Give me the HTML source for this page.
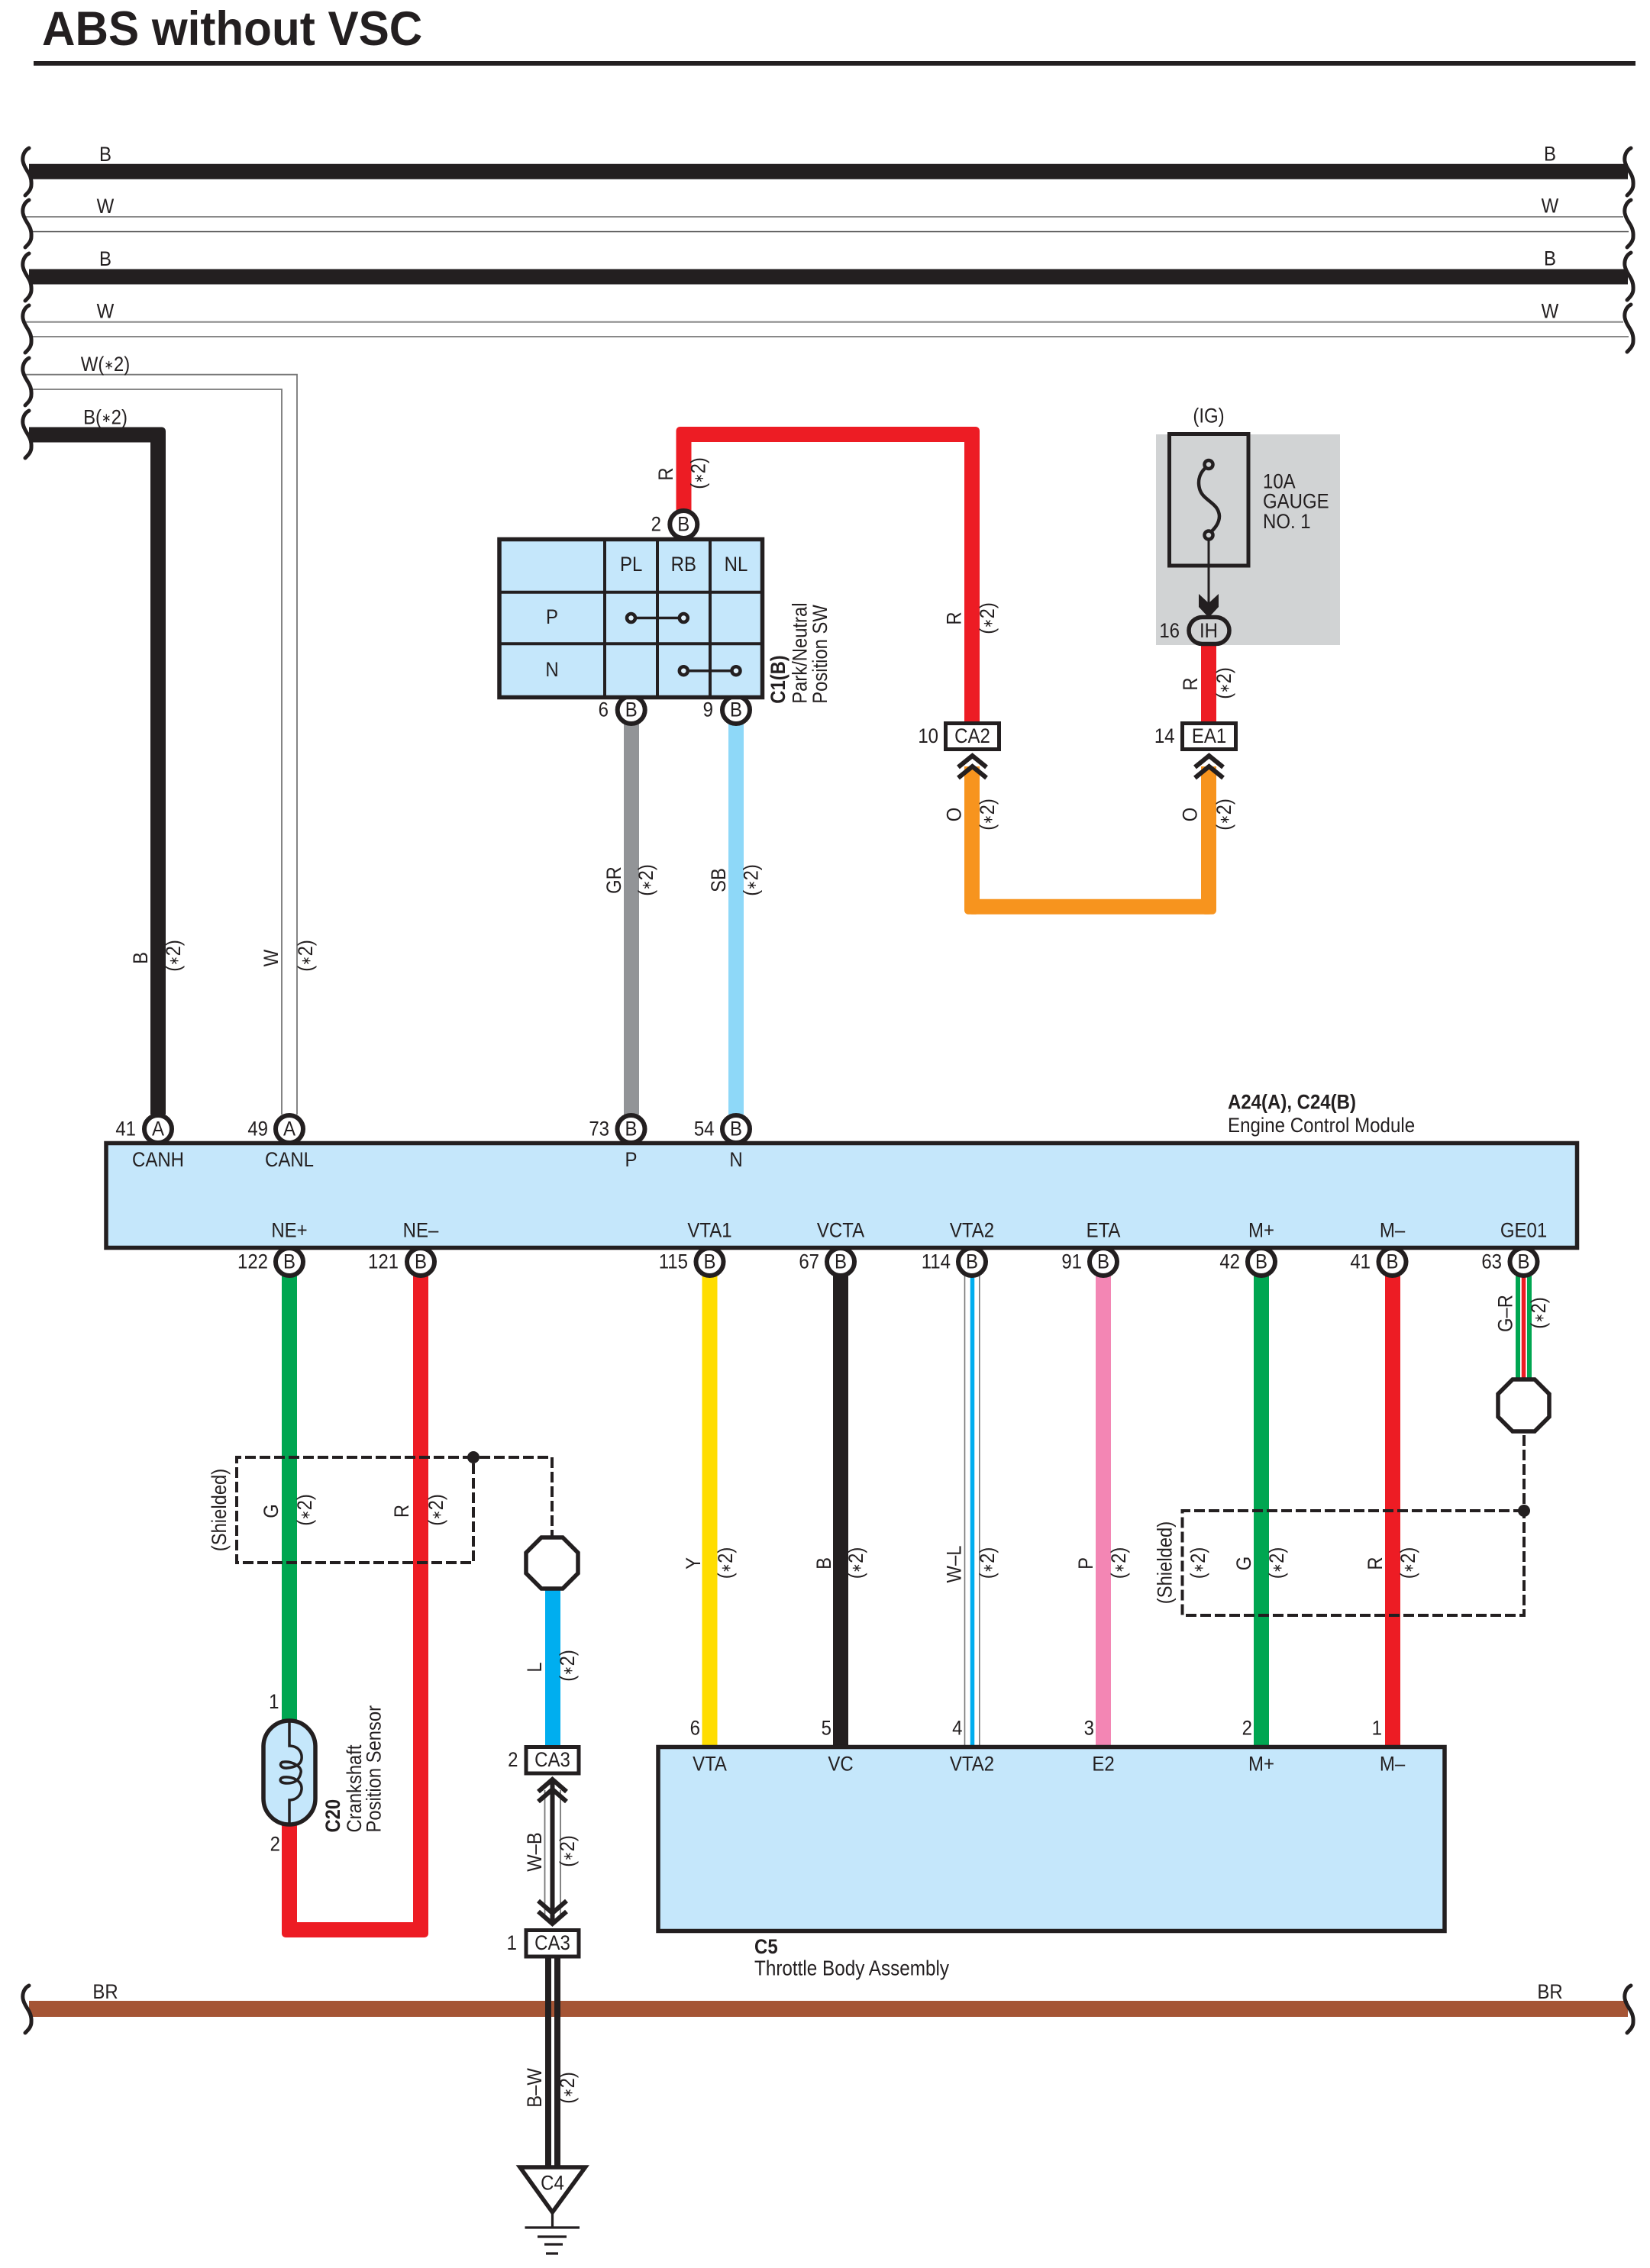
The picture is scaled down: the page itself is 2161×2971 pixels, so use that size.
<!DOCTYPE html>
<html><head><meta charset="utf-8"><title>ABS without VSC</title>
<style>
html,body{margin:0;padding:0;background:#fff}
svg{display:block}
text{font-family:"Liberation Sans",sans-serif;font-size:24px;fill:#231f20}
.m{text-anchor:middle}.e{text-anchor:end}.b{font-weight:bold}
.v{font-size:23.8px}
.a{font-size:15px}
.w{fill:none;stroke-width:20;stroke-linejoin:round}
.pin{fill:#fff;stroke:#231f20;stroke-width:6}
.box{fill:#fff;stroke:#231f20;stroke-width:5}
.ecu{fill:#c5e7fb;stroke:#231f20;stroke-width:5.5}
.dash{fill:none;stroke:#231f20;stroke-width:4;stroke-dasharray:14 5}
.chev{fill:none;stroke:#231f20;stroke-width:6}
</style></head><body>
<svg xmlns="http://www.w3.org/2000/svg" width="2161" height="2971" viewBox="0 0 2161 2971">
<defs><path id="sq" d="M9 0C3 3 0 10 1 17C3 29 13 33 12 48C12 54 8 58 4 62" fill="none" stroke="#231f20" stroke-width="5" stroke-linecap="round"/></defs>
<rect width="2161" height="2971" fill="#fff"/>

<text class="b" transform="matrix(1 0 0 1.05 55 59)" style="font-size:60.2px">ABS without VSC</text>
<rect x="44" y="80" width="2098" height="6" fill="#231f20"/>

<!-- buses -->
<path d="M38 224.8H2132M38 362.5H2132" stroke="#231f20" stroke-width="20" fill="none"/>
<path d="M34 284H2126M34 421.7H2126" stroke="#8a8a8a" stroke-width="2" fill="none"/>
<path d="M43 303.5H2133" stroke="#444" stroke-width="1.6" fill="none"/>
<path d="M43 441H2133" stroke="#777" stroke-width="1.8" fill="none"/>
<path d="M34 490.7H389V1460" stroke="#777" stroke-width="1.8" fill="none"/>
<path d="M43 510H369V1460" stroke="#777" stroke-width="1.8" fill="none"/>
<path class="w" d="M38 569.5H207V1460" stroke="#231f20"/>
<rect x="197" y="559.5" width="20" height="20" rx="5" fill="#231f20"/>
<rect x="38" y="2621" width="2094" height="21" fill="#a55535"/>

<use href="#sq" transform="translate(29 194)"/><use href="#sq" transform="translate(29 262)"/><use href="#sq" transform="translate(29 332)"/><use href="#sq" transform="translate(29 400)"/><use href="#sq" transform="translate(29 469)"/><use href="#sq" transform="translate(29 538)"/><use href="#sq" transform="translate(29 2601)"/>
<use href="#sq" transform="translate(2127 194)"/><use href="#sq" transform="translate(2127 262)"/><use href="#sq" transform="translate(2127 331)"/><use href="#sq" transform="translate(2127 399)"/><use href="#sq" transform="translate(2127 2601)"/>

<text class="m" transform="matrix(1 0 0 1.13 138 211)">B</text>
<text class="m" transform="matrix(1 0 0 1.13 138 279)">W</text>
<text class="m" transform="matrix(1 0 0 1.13 138 348)">B</text>
<text class="m" transform="matrix(1 0 0 1.13 138 416.5)">W</text>
<text class="m" transform="matrix(1 0 0 1.13 138 486)">W(<tspan class="a" dy="-2">∗</tspan><tspan dy="2">2)</tspan></text>
<text class="m" transform="matrix(1 0 0 1.13 138 555.5)">B(<tspan class="a" dy="-2">∗</tspan><tspan dy="2">2)</tspan></text>
<text class="m" transform="matrix(1 0 0 1.13 2030 210.5)">B</text>
<text class="m" transform="matrix(1 0 0 1.13 2030 278.5)">W</text>
<text class="m" transform="matrix(1 0 0 1.13 2030 347.5)">B</text>
<text class="m" transform="matrix(1 0 0 1.13 2030 416.5)">W</text>
<text class="m" transform="matrix(1 0 0 1.13 138 2618)">BR</text>
<text class="m" transform="matrix(1 0 0 1.13 2030 2618)">BR</text>

<!-- wires -->
<path class="w" stroke="#ed1c24" d="M895.5 670V569H1273V946"/>
<rect x="885.5" y="559" width="20" height="20" rx="5" fill="#ed1c24"/>
<rect x="1263" y="559" width="20" height="20" rx="5" fill="#ed1c24"/>
<path class="w" stroke="#ed1c24" d="M1583 840V946"/>
<path class="w" stroke="#f7941e" d="M1273 1004V1187.7H1583V1004"/>
<rect x="1263" y="1177.7" width="20" height="20" rx="5" fill="#f7941e"/>
<rect x="1573" y="1177.7" width="20" height="20" rx="5" fill="#f7941e"/>
<path class="w" stroke="#929497" d="M827 945V1460"/>
<path class="w" stroke="#8ed8f8" d="M964 945V1460"/>
<path class="w" stroke="#00a651" d="M379 1670V2255"/>
<path class="w" stroke="#ed1c24" d="M379 2388V2528H551V1670"/>
<rect x="369" y="2518" width="20" height="20" rx="5" fill="#ed1c24"/>
<rect x="541" y="2518" width="20" height="20" rx="5" fill="#ed1c24"/>
<path class="w" stroke="#ffdd00" d="M929.5 1670V2288"/>
<path class="w" stroke="#231f20" d="M1101 1670V2288"/>
<path d="M1263.5 1670V2288M1282.8 1670V2288" stroke="#777" stroke-width="1.6" fill="none"/>
<path d="M1273.5 1670V2288" stroke="#00aeef" stroke-width="5.5" fill="none"/>
<path class="w" stroke="#f386b4" d="M1445 1670V2288"/>
<path class="w" stroke="#00a651" d="M1652 1670V2288"/>
<path class="w" stroke="#ed1c24" d="M1824 1670V2288"/>
<path d="M1988 1670V1808M2003 1670V1808" stroke="#00a651" stroke-width="6" fill="none"/>
<path d="M1995.5 1670V1808" stroke="#ed1c24" stroke-width="5.5" fill="none"/>
<path class="w" stroke="#00aeef" d="M724 2080V2288"/>
<path d="M713.5 2345V2510M734 2345V2510" stroke="#777" stroke-width="1.8" fill="none"/>
<path d="M723.5 2335V2518" stroke="#231f20" stroke-width="6" fill="none"/>
<path d="M718 2563V2840M730 2563V2840" stroke="#231f20" stroke-width="8" fill="none"/>

<!-- gray fuse area -->
<rect x="1514" y="569" width="241" height="276" fill="#d1d3d4"/>
<rect x="1531.5" y="568.5" width="103.5" height="172.5" fill="none" stroke="#231f20" stroke-width="5"/>
<path d="M1581 611C1572 618 1568 628 1571 640C1575 656 1596 658 1597 676C1597 686 1590 693 1585 698" fill="none" stroke="#231f20" stroke-width="4.5"/>
<path d="M1583 706V795" stroke="#231f20" stroke-width="3" fill="none"/>
<circle cx="1583" cy="608.5" r="5.5" fill="#d1d3d4" stroke="#231f20" stroke-width="4.5"/>
<circle cx="1583" cy="701" r="5.5" fill="#d1d3d4" stroke="#231f20" stroke-width="4.5"/>
<path d="M1570 778L1583 790L1596 778V795L1583 809L1570 795Z" fill="#231f20"/>
<rect x="1557" y="808.5" width="53" height="35" rx="17.5" fill="#d1d3d4" stroke="#231f20" stroke-width="5.5"/>
<text class="m" transform="matrix(1 0 0 1.13 1583 553.5)">(IG)</text>
<text class="m" transform="matrix(1 0 0 1.13 1583 835)">IH</text>
<text class="e" transform="matrix(1 0 0 1.13 1545 835)">16</text>
<text transform="matrix(1 0 0 1.13 1654 639.5)">10A</text>
<text transform="matrix(1 0 0 1.13 1654 665.5)">GAUGE</text>
<text transform="matrix(1 0 0 1.13 1654 692)">NO. 1</text>

<!-- pins -->
<g class="pin">
<circle class="pin" cx="895.3" cy="687" r="18"/>
<circle class="pin" cx="826.7" cy="930" r="18"/><circle class="pin" cx="964" cy="930" r="18"/>
<circle class="pin" cx="207" cy="1479" r="18"/><circle class="pin" cx="379" cy="1479" r="18"/><circle class="pin" cx="826.5" cy="1479" r="18"/><circle class="pin" cx="964" cy="1479" r="18"/>
<circle class="pin" cx="379" cy="1653" r="18"/><circle class="pin" cx="551" cy="1653" r="18"/><circle class="pin" cx="929.5" cy="1653" r="18"/><circle class="pin" cx="1101" cy="1653" r="18"/><circle class="pin" cx="1273" cy="1653" r="18"/><circle class="pin" cx="1445" cy="1653" r="18"/><circle class="pin" cx="1652" cy="1653" r="18"/><circle class="pin" cx="1823.5" cy="1653" r="18"/><circle class="pin" cx="1995.5" cy="1653" r="18"/>
</g>

<!-- switch table -->
<rect x="654" y="706.5" width="344.5" height="207" class="ecu" stroke-width="5"/>
<path d="M792 706V914M861 706V914M930 706V914M654 775.7H998M654 843.3H998" stroke="#231f20" stroke-width="4" fill="none"/>
<path d="M826.5 809.5H895.3M895.3 878.7H964" stroke="#231f20" stroke-width="3.5" fill="none"/>
<g fill="#dff1fb" stroke="#231f20" stroke-width="4.5"><circle cx="826.5" cy="809.5" r="5.5"/><circle cx="895.3" cy="809.5" r="5.5"/><circle cx="895.3" cy="878.7" r="5.5"/><circle cx="964" cy="878.7" r="5.5"/></g>
<text class="m" transform="matrix(1 0 0 1.13 826.7 748)">PL</text>
<text class="m" transform="matrix(1 0 0 1.13 895.3 748)">RB</text>
<text class="m" transform="matrix(1 0 0 1.13 964 748)">NL</text>
<text class="m" transform="matrix(1 0 0 1.13 723 817)">P</text>
<text class="m" transform="matrix(1 0 0 1.13 723 886)">N</text>
<text class="m" transform="matrix(1 0 0 1.13 895.3 695.5)">B</text>
<text class="e" transform="matrix(1 0 0 1.13 866 695.5)">2</text>
<text class="m" transform="matrix(1 0 0 1.13 826.7 938.5)">B</text>
<text class="e" transform="matrix(1 0 0 1.13 797 938.5)">6</text>
<text class="m" transform="matrix(1 0 0 1.13 964 938.5)">B</text>
<text class="e" transform="matrix(1 0 0 1.13 934 938.5)">9</text>
<text class="v b" transform="translate(1028 921.7) rotate(-90) scale(1 1.13)">C1(B)</text>
<text class="v" transform="translate(1056.7 921.7) rotate(-90) scale(1 1.13)">Park/Neutral</text>
<text class="v" transform="translate(1083 921.7) rotate(-90) scale(1 1.13)">Position SW</text>

<!-- ECU -->
<rect class="ecu" x="139" y="1497.5" width="1926.5" height="137"/>
<text class="b" transform="matrix(1 0 0 1.1 1608 1452.5)">A24(A), C24(B)</text>
<text transform="matrix(1 0 0 1.1 1608 1482.8)" style="font-size:24.1px">Engine Control Module</text>
<g class="m">
<text class="m" transform="matrix(1 0 0 1.13 207 1487.5)">A</text><text class="m" transform="matrix(1 0 0 1.13 379 1487.5)">A</text><text class="m" transform="matrix(1 0 0 1.13 826.5 1487.5)">B</text><text class="m" transform="matrix(1 0 0 1.13 964 1487.5)">B</text>
<text class="m" transform="matrix(1 0 0 1.13 207 1528)">CANH</text><text class="m" transform="matrix(1 0 0 1.13 379 1528)">CANL</text><text class="m" transform="matrix(1 0 0 1.13 826.5 1528)">P</text><text class="m" transform="matrix(1 0 0 1.13 964 1528)">N</text>
<text class="m" transform="matrix(1 0 0 1.13 379 1620.5)">NE+</text><text class="m" transform="matrix(1 0 0 1.13 551 1620.5)">NE–</text><text class="m" transform="matrix(1 0 0 1.13 929.5 1620.5)">VTA1</text><text class="m" transform="matrix(1 0 0 1.13 1101 1620.5)">VCTA</text><text class="m" transform="matrix(1 0 0 1.13 1273 1620.5)">VTA2</text><text class="m" transform="matrix(1 0 0 1.13 1445 1620.5)">ETA</text><text class="m" transform="matrix(1 0 0 1.13 1652 1620.5)">M+</text><text class="m" transform="matrix(1 0 0 1.13 1823.5 1620.5)">M–</text><text class="m" transform="matrix(1 0 0 1.13 1995.5 1620.5)">GE01</text>
<text class="m" transform="matrix(1 0 0 1.13 379 1661.5)">B</text><text class="m" transform="matrix(1 0 0 1.13 551 1661.5)">B</text><text class="m" transform="matrix(1 0 0 1.13 929.5 1661.5)">B</text><text class="m" transform="matrix(1 0 0 1.13 1101 1661.5)">B</text><text class="m" transform="matrix(1 0 0 1.13 1273 1661.5)">B</text><text class="m" transform="matrix(1 0 0 1.13 1445 1661.5)">B</text><text class="m" transform="matrix(1 0 0 1.13 1652 1661.5)">B</text><text class="m" transform="matrix(1 0 0 1.13 1823.5 1661.5)">B</text><text class="m" transform="matrix(1 0 0 1.13 1995.5 1661.5)">B</text>
</g>
<text class="e" transform="matrix(1 0 0 1.13 178 1487.5)">41</text><text class="e" transform="matrix(1 0 0 1.13 351 1487.5)">49</text><text class="e" transform="matrix(1 0 0 1.13 798 1487.5)">73</text><text class="e" transform="matrix(1 0 0 1.13 935.5 1487.5)">54</text>
<text class="e" transform="matrix(1 0 0 1.13 351 1661.5)">122</text><text class="e" transform="matrix(1 0 0 1.13 522 1661.5)">121</text><text class="e" transform="matrix(1 0 0 1.13 901 1661.5)">115</text><text class="e" transform="matrix(1 0 0 1.13 1073 1661.5)">67</text><text class="e" transform="matrix(1 0 0 1.13 1245 1661.5)">114</text><text class="e" transform="matrix(1 0 0 1.13 1417 1661.5)">91</text><text class="e" transform="matrix(1 0 0 1.13 1624 1661.5)">42</text><text class="e" transform="matrix(1 0 0 1.13 1795 1661.5)">41</text><text class="e" transform="matrix(1 0 0 1.13 1967 1661.5)">63</text>

<!-- connectors CA2 / EA1 / CA3 -->
<rect class="box" x="1238.5" y="947.5" width="70" height="34"/>
<rect class="box" x="1548.5" y="947.5" width="70" height="34"/>
<path class="chev" d="M1255 1005L1273.5 990L1292 1005M1255 1019L1273.5 1004L1292 1019"/>
<path class="chev" d="M1565 1005L1583.5 990L1602 1005M1565 1019L1583.5 1004L1602 1019"/>
<text class="m" transform="matrix(1 0 0 1.13 1273.5 973)">CA2</text><text class="e" transform="matrix(1 0 0 1.13 1229 973)">10</text>
<text class="m" transform="matrix(1 0 0 1.13 1583.5 973)">EA1</text><text class="e" transform="matrix(1 0 0 1.13 1538.5 973)">14</text>

<rect class="box" x="689" y="2288.5" width="69" height="34.5"/>
<rect class="box" x="689" y="2528.5" width="69" height="34.5"/>
<path class="chev" d="M705 2347L723.5 2331L742 2347M705 2360L723.5 2344L742 2360"/>
<path class="chev" d="M705 2490L723.5 2506L742 2490M705 2504L723.5 2520L742 2504"/>
<text class="m" transform="matrix(1 0 0 1.13 723.5 2314)">CA3</text><text class="e" transform="matrix(1 0 0 1.13 678.5 2314)">2</text>
<text class="m" transform="matrix(1 0 0 1.13 723.5 2554)">CA3</text><text class="e" transform="matrix(1 0 0 1.13 677 2554)">1</text>

<!-- shields -->
<path class="dash" d="M620 1909H310V2047H620V1909M628 1909H723V2014"/>
<circle cx="620" cy="1909" r="8" fill="#231f20"/>
<path class="dash" d="M1996 1979H1548.5V2116H1996V1876"/>
<circle cx="1996" cy="1979" r="8" fill="#231f20"/>
<polygon points="709,2014 737,2014 757,2034 757,2061 737,2081 709,2081 689,2061 689,2034" fill="#fff" stroke="#231f20" stroke-width="5.5"/>
<polygon points="1981,1807 2010,1807 2029,1826 2029,1856 2010,1875 1981,1875 1962,1856 1962,1826" fill="#fff" stroke="#231f20" stroke-width="5.5"/>

<!-- sensor -->
<rect class="ecu" x="345" y="2254" width="68" height="136" rx="34"/>
<path d="M379 2254V2287C391 2287 396 2296 395 2304C394 2312 386 2315 376 2316C366 2317 365 2308 372 2308C382 2307 396 2314 394 2322C392 2332 386 2336 376 2336C365 2336 365 2329 372 2328C382 2327 396 2332 395 2344C394 2352 388 2358 379 2358V2390" fill="none" stroke="#231f20" stroke-width="3.5"/>
<text class="e" transform="matrix(1 0 0 1.13 365.5 2238)">1</text>
<text class="e" transform="matrix(1 0 0 1.13 367 2424.5)">2</text>
<text class="v b" transform="translate(445 2400.5) rotate(-90) scale(1 1.13)">C20</text>
<text class="v" transform="translate(473 2400.5) rotate(-90) scale(1 1.13)">Crankshaft</text>
<text class="v" transform="translate(498.7 2400.5) rotate(-90) scale(1 1.13)">Position Sensor</text>

<!-- throttle -->
<rect class="ecu" x="862" y="2288.5" width="1030" height="241"/>
<text class="m" transform="matrix(1 0 0 1.13 929.5 2319.5)">VTA</text><text class="m" transform="matrix(1 0 0 1.13 1101 2319.5)">VC</text><text class="m" transform="matrix(1 0 0 1.13 1273 2319.5)">VTA2</text><text class="m" transform="matrix(1 0 0 1.13 1445 2319.5)">E2</text><text class="m" transform="matrix(1 0 0 1.13 1652 2319.5)">M+</text><text class="m" transform="matrix(1 0 0 1.13 1823.5 2319.5)">M–</text>
<text class="e" transform="matrix(1 0 0 1.13 917 2272.5)">6</text><text class="e" transform="matrix(1 0 0 1.13 1089 2272.5)">5</text><text class="e" transform="matrix(1 0 0 1.13 1260.5 2272.5)">4</text><text class="e" transform="matrix(1 0 0 1.13 1433 2272.5)">3</text><text class="e" transform="matrix(1 0 0 1.13 1640 2272.5)">2</text><text class="e" transform="matrix(1 0 0 1.13 1810 2272.5)">1</text>
<text class="b" transform="matrix(1 0 0 1.13 988 2559)">C5</text>
<text transform="matrix(1 0 0 1.13 988 2587.5)" style="font-size:24.3px">Throttle Body Assembly</text>

<!-- ground -->
<polygon points="681,2839 766.5,2839 723.5,2898" fill="#fff" stroke="#231f20" stroke-width="5.5"/>
<text class="m" transform="matrix(1 0 0 1.13 723.5 2868.5)">C4</text>
<path d="M723.5 2898V2918M687.5 2918H759M704 2930H742M713 2940H737M715 2952H731" fill="none" stroke="#231f20" stroke-width="3.2"/>

<!-- rotated wire labels -->
<g class="m">
<text class="v m" transform="translate(193 1255) rotate(-90) scale(1 1.13)">B</text><text class="v m" transform="translate(236 1252) rotate(-90) scale(1 1.13)">(<tspan class="a" dy="-2">∗</tspan><tspan dy="2">2)</tspan></text>
<text class="v m" transform="translate(364 1255) rotate(-90) scale(1 1.13)">W</text><text class="v m" transform="translate(409 1252) rotate(-90) scale(1 1.13)">(<tspan class="a" dy="-2">∗</tspan><tspan dy="2">2)</tspan></text>
<text class="v m" transform="translate(881 621) rotate(-90) scale(1 1.13)">R</text><text class="v m" transform="translate(923.5 620) rotate(-90) scale(1 1.13)">(<tspan class="a" dy="-2">∗</tspan><tspan dy="2">2)</tspan></text>
<text class="v m" transform="translate(813 1153) rotate(-90) scale(1 1.13)">GR</text><text class="v m" transform="translate(855 1153) rotate(-90) scale(1 1.13)">(<tspan class="a" dy="-2">∗</tspan><tspan dy="2">2)</tspan></text>
<text class="v m" transform="translate(950 1153) rotate(-90) scale(1 1.13)">SB</text><text class="v m" transform="translate(992.5 1153) rotate(-90) scale(1 1.13)">(<tspan class="a" dy="-2">∗</tspan><tspan dy="2">2)</tspan></text>
<text class="v m" transform="translate(1258.5 810) rotate(-90) scale(1 1.13)">R</text><text class="v m" transform="translate(1302 810) rotate(-90) scale(1 1.13)">(<tspan class="a" dy="-2">∗</tspan><tspan dy="2">2)</tspan></text>
<text class="v m" transform="translate(1568 896) rotate(-90) scale(1 1.13)">R</text><text class="v m" transform="translate(1612 895) rotate(-90) scale(1 1.13)">(<tspan class="a" dy="-2">∗</tspan><tspan dy="2">2)</tspan></text>
<text class="v m" transform="translate(1258.5 1067) rotate(-90) scale(1 1.13)">O</text><text class="v m" transform="translate(1302 1067) rotate(-90) scale(1 1.13)">(<tspan class="a" dy="-2">∗</tspan><tspan dy="2">2)</tspan></text>
<text class="v m" transform="translate(1567.5 1067) rotate(-90) scale(1 1.13)">O</text><text class="v m" transform="translate(1612 1067) rotate(-90) scale(1 1.13)">(<tspan class="a" dy="-2">∗</tspan><tspan dy="2">2)</tspan></text>
<text class="v m" transform="translate(296 1978) rotate(-90) scale(1 1.13)">(Shielded)</text>
<text class="v m" transform="translate(364 1979.5) rotate(-90) scale(1 1.13)">G</text><text class="v m" transform="translate(408 1978) rotate(-90) scale(1 1.13)">(<tspan class="a" dy="-2">∗</tspan><tspan dy="2">2)</tspan></text>
<text class="v m" transform="translate(535 1979.5) rotate(-90) scale(1 1.13)">R</text><text class="v m" transform="translate(580 1978) rotate(-90) scale(1 1.13)">(<tspan class="a" dy="-2">∗</tspan><tspan dy="2">2)</tspan></text>
<text class="v m" transform="translate(709 2184) rotate(-90) scale(1 1.13)">L</text><text class="v m" transform="translate(752 2182) rotate(-90) scale(1 1.13)">(<tspan class="a" dy="-2">∗</tspan><tspan dy="2">2)</tspan></text>
<text class="v m" transform="translate(709 2426) rotate(-90) scale(1 1.13)">W–B</text><text class="v m" transform="translate(752 2425) rotate(-90) scale(1 1.13)">(<tspan class="a" dy="-2">∗</tspan><tspan dy="2">2)</tspan></text>
<text class="v m" transform="translate(709 2735) rotate(-90) scale(1 1.13)">B–W</text><text class="v m" transform="translate(752 2735) rotate(-90) scale(1 1.13)">(<tspan class="a" dy="-2">∗</tspan><tspan dy="2">2)</tspan></text>
<text class="v m" transform="translate(917 2048) rotate(-90) scale(1 1.13)">Y</text><text class="v m" transform="translate(959 2047.5) rotate(-90) scale(1 1.13)">(<tspan class="a" dy="-2">∗</tspan><tspan dy="2">2)</tspan></text>
<text class="v m" transform="translate(1088 2048) rotate(-90) scale(1 1.13)">B</text><text class="v m" transform="translate(1130 2047.5) rotate(-90) scale(1 1.13)">(<tspan class="a" dy="-2">∗</tspan><tspan dy="2">2)</tspan></text>
<text class="v m" transform="translate(1258.5 2049) rotate(-90) scale(1 1.13)">W–L</text><text class="v m" transform="translate(1302 2047.5) rotate(-90) scale(1 1.13)">(<tspan class="a" dy="-2">∗</tspan><tspan dy="2">2)</tspan></text>
<text class="v m" transform="translate(1431 2048) rotate(-90) scale(1 1.13)">P</text><text class="v m" transform="translate(1474 2047.5) rotate(-90) scale(1 1.13)">(<tspan class="a" dy="-2">∗</tspan><tspan dy="2">2)</tspan></text>
<text class="v m" transform="translate(1534.5 2047) rotate(-90) scale(1 1.13)">(Shielded)</text><text class="v m" transform="translate(1578 2047.5) rotate(-90) scale(1 1.13)">(<tspan class="a" dy="-2">∗</tspan><tspan dy="2">2)</tspan></text>
<text class="v m" transform="translate(1638 2048) rotate(-90) scale(1 1.13)">G</text><text class="v m" transform="translate(1681 2047.5) rotate(-90) scale(1 1.13)">(<tspan class="a" dy="-2">∗</tspan><tspan dy="2">2)</tspan></text>
<text class="v m" transform="translate(1810 2048) rotate(-90) scale(1 1.13)">R</text><text class="v m" transform="translate(1853 2047.5) rotate(-90) scale(1 1.13)">(<tspan class="a" dy="-2">∗</tspan><tspan dy="2">2)</tspan></text>
<text class="v m" transform="translate(1980.5 1720.5) rotate(-90) scale(1 1.13)">G–R</text><text class="v m" transform="translate(2024 1720) rotate(-90) scale(1 1.13)">(<tspan class="a" dy="-2">∗</tspan><tspan dy="2">2)</tspan></text>
</g>
</svg>
</body></html>
